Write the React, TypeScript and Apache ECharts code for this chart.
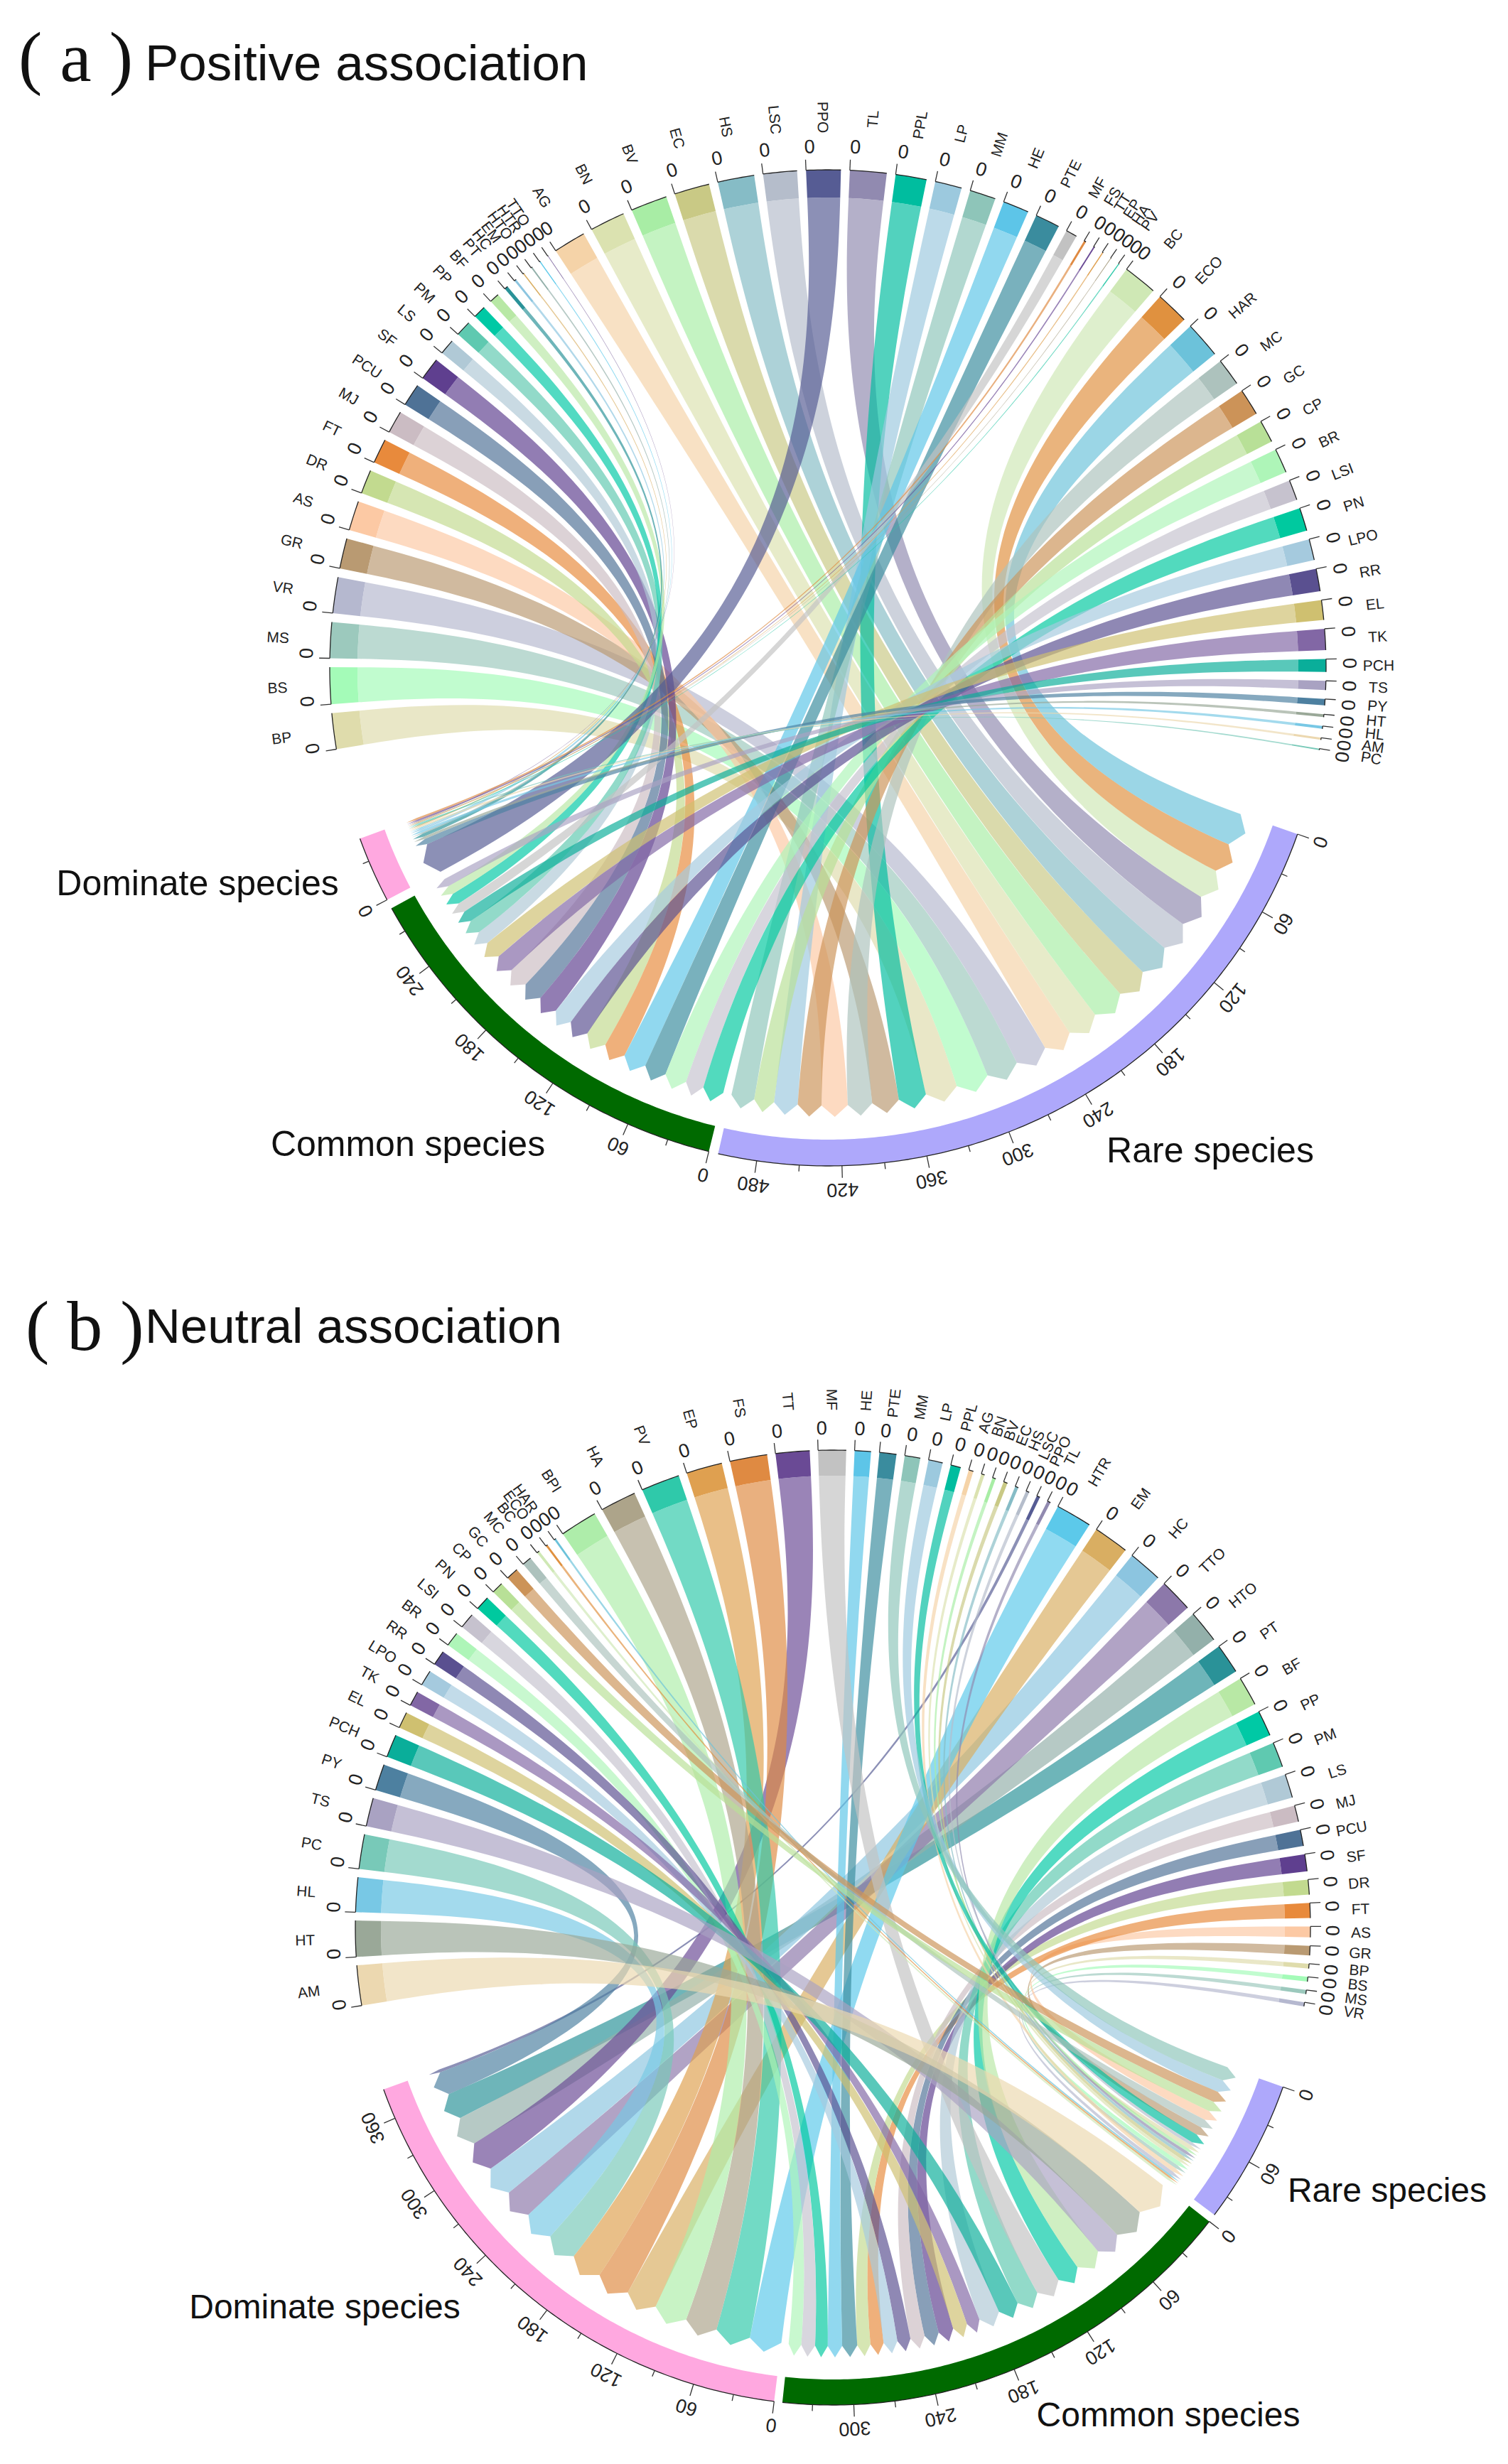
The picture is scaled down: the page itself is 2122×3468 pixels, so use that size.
import React, { useEffect, useRef } from "react";
import * as echarts from "echarts";

// ---------- species shared by both panels ----------
const speciesColors: Record<string, string> = {
  BP: "#dfdcac", BS: "#a4fbb8", MS: "#9cc9bd", VR: "#b5b8cf", GR: "#b99a72", AS: "#fcc9a4", DR: "#c2da8f", FT: "#e88a3c",
  MJ: "#cbbcc3", PCU: "#4f7296", SF: "#5f3f8f", LS: "#b0c9d6", PM: "#5fc9b0", PP: "#00c9a5", BF: "#b8e8a5", PT: "#2a9298",
  HTO: "#93b0aa", TTO: "#8c78aa", HC: "#8cc5e0", EM: "#d9ae62", HTR: "#5cc9ea", AG: "#f5d3a8", BN: "#dbe2b0", BV: "#a8eda5",
  EC: "#c9c985", HS: "#86bcc6", LSC: "#b5bdcb", PPO: "#565c94", TL: "#918ab0", PPL: "#00bd9f", LP: "#9cc9de", MM: "#8ec5b9",
  HE: "#5dc5e8", PTE: "#3a8c9e", MF: "#c2c2c2", FS: "#df8a42", TT: "#6a4a95", EP: "#dfa050", HA: "#ada48a", PV: "#2fc9aa",
  BPI: "#aeedaa", BC: "#cfe8b5", ECO: "#e0913f", HAR: "#6cc2da", MC: "#adc2bd", GC: "#cc9358", CP: "#b8e097", BR: "#aef5b8",
  LSI: "#c6c2ce", PN: "#00c99f", LPO: "#a5cade", RR: "#5a5090", EL: "#cfc070", TK: "#8267a5", PCH: "#0aae9a", TS: "#a9a2c2",
  PY: "#4d80a0", HT: "#9aa898", HL: "#78c8e5", AM: "#ecd8b0", PC: "#78c9b8",
};
const groupColors: Record<string, string> = {
  "Rare species": "#aea8fb",
  "Common species": "#006a00",
  "Dominate species": "#ffa8e0",
};
const groupNames = ["Rare species", "Common species", "Dominate species"];

// ---------- panel (a) ----------
const speciesA = [
  "BP", "BS", "MS", "VR", "GR", "AS", "DR", "FT", "MJ", "PCU", "SF", "LS", "PM", "PP", "BF",
  "PT", "HC", "EM", "HTO", "HTR", "TTO", "AG", "BN", "BV", "EC", "HS", "LSC", "PPO", "TL", "PPL",
  "LP", "MM", "HE", "PTE", "MF", "FS", "TT", "EP", "HA", "PV", "BC", "ECO", "HAR", "MC", "GC",
  "CP", "BR", "LSI", "PN", "LPO", "RR", "EL", "TK", "PCH", "TS", "PY", "HT", "HL", "AM", "PC",
];
const valuesA = [
  25.5, 26, 25.5, 25.5, 21.5, 21, 17, 17.5, 16, 16, 16, 11, 11, 9, 7,
  2.5, 1.5, 0.8, 1, 0.7, 0.5, 23, 25, 26, 25, 26, 24, 24.5, 26, 22,
  19, 18.5, 18.5, 17.5, 8, 1.5, 1, 0.8, 0.5, 0.7, 24, 23.5, 26, 19.5, 19,
  16, 17.5, 14.5, 16.5, 15, 16, 14, 15, 9, 6.5, 4.5, 2, 2, 1.5, 1,
];
const rareA = ["HAR", "ECO", "BC", "TL", "LSC", "HS", "EC", "BV", "BN", "AG", "VR", "MS", "BS", "BP", "PPL", "GR", "MC", "AS", "GC", "LP", "CP", "MM"];
const commonA = ["PN", "LSI", "BR", "PTE", "HE", "FT", "DR", "RR", "LPO", "SF", "PCU", "MJ", "TK", "EL", "LS", "PM", "PCH", "MF", "PP", "BF", "TS"];
const dominateA = ["PPO", "PY", "HT", "PT", "HTO", "HL", "HC", "HTR", "AM", "EM", "PV", "PC", "EP", "HA", "TTO", "TT", "FS"];

// ---------- panel (b) ----------
const speciesB = [
  "AM", "HT", "HL", "PC", "TS", "PY", "PCH", "EL", "TK", "LPO", "RR", "BR", "LSI", "PN", "CP", "GC", "MC", "BC", "ECO", "HAR",
  "BPI", "HA", "PV", "EP", "FS", "TT", "MF", "HE", "PTE", "MM", "LP", "PPL", "AG", "BN", "BV", "EC", "HS", "LSC", "PPO", "TL",
  "HTR", "EM", "HC", "TTO", "HTO", "PT", "BF", "PP", "PM", "LS", "MJ", "PCU", "SF", "DR", "FT", "AS", "GR", "BP", "BS", "MS", "VR",
];
const valuesB = [
  29.5, 26.5, 25.5, 25.5, 21, 19.5, 17, 12, 11, 11.5, 11, 10.5, 11.5, 10.5, 8.5, 9, 7, 2, 1.5, 1.5,
  27.5, 26.5, 28.5, 26.5, 27.5, 25, 20.5, 12, 12.5, 11.5, 10.5, 7.5, 3.5, 2.5, 2.5, 3, 2.5, 2.5, 2.5, 2.5,
  26.5, 26, 25, 24.5, 24, 22, 21.5, 19, 18.5, 17.5, 12, 12, 12.5, 11, 11, 8, 7, 3.5, 3.5, 3, 3,
];
const rareB = ["MM", "LP", "GC", "CP", "AS", "MC", "GR", "PPL", "LSC", "BP", "BV", "TL", "HS", "EC", "BN", "BS", "MS", "AG", "VR", "HAR", "ECO", "BC"];
const commonB = ["AM", "HT", "TS", "BF", "PP", "MF", "PM", "PCH", "LS", "TK", "EL", "SF", "PCU", "MJ", "RR", "LPO", "FT", "DR", "PTE", "HE", "PN", "LSI", "BR"];
const dominateB = ["HTR", "PV", "HA", "BPI", "EM", "FS", "EP", "PC", "HL", "TTO", "HC", "TT", "HTO", "PT", "PY", "PPO"];

// ---------- layout ----------
type Panel = {
  polarIndex: number; center: number[]; R: number; bandDepth: number; groupDepth: number;
  tipR: number; shoulderR: number; nameR: number; zeroR: number; tickLabelR: number;
  species: string[]; values: number[]; slots: string[][]; k: number; groupGap: number; reverseDraw: boolean;
};
const panels: Panel[] = [
  { polarIndex: 0, center: [1165, 940], R: 701, bandDepth: 39, groupDepth: 37, tipR: 632, shoulderR: 616, nameR: 775, zeroR: 734, tickLabelR: 735,
    species: speciesA, values: valuesA, slots: [rareA, commonA, dominateA], k: 0.164, groupGap: 1.1, reverseDraw: false },
  { polarIndex: 1, center: [1172, 2713], R: 672, bandDepth: 36, groupDepth: 36, tipR: 605, shoulderR: 589, nameR: 743, zeroR: 703, tickLabelR: 706,
    species: speciesB, values: valuesB, slots: [rareB, commonB, dominateB], k: 0.165, groupGap: 1, reverseDraw: true },
];
const TOP_START = 260.6, TOP_END = 459.5, GROUP_START = 109.5;
const TICK_MINOR = 30, TICK_MAJOR = 60;
const RMAX = 820;
const RIBBON_OPACITY = 0.68;

function buildOption() {
  const series: any[] = [];
  const polar: any[] = [], angleAxis: any[] = [], radiusAxis: any[] = [];
  panels.forEach((p) => {
    polar.push({ center: p.center, radius: RMAX });
    angleAxis.push({ polarIndex: p.polarIndex, type: "value", min: 0, max: 360, startAngle: 90, clockwise: true, show: false, splitLine: { show: false } });
    radiusAxis.push({ polarIndex: p.polarIndex, type: "value", min: 0, max: RMAX, show: false, splitLine: { show: false } });

    const total = p.values.reduce((s, v) => s + v, 0);
    const gap = (TOP_END - TOP_START - total * p.k) / (p.species.length - 1);
    const spans: Record<string, number[]> = {};
    const valueOf: Record<string, number> = {};
    let a = TOP_START;
    p.species.forEach((n, i) => {
      const w = p.values[i] * p.k;
      spans[n] = [a, a + w];
      valueOf[n] = p.values[i];
      a += w + gap;
    });

    const slotOf: Record<string, number[]> = {};
    const arcs: { color: string; a0: number; a1: number; r0: number; r1: number }[] = [];
    const ticks: { angle: number; len: number }[] = [];
    const texts: { text: string; angle: number; r: number; size: number; mode: string }[] = [];

    const addTicks = (a0: number, value: number) => {
      for (let v = 0; v <= value; v += TICK_MINOR) {
        const ang = a0 + v * p.k;
        const major = v % TICK_MAJOR === 0;
        ticks.push({ angle: ang, len: major ? 17 : 9 });
        if (major) texts.push({ text: String(v), angle: ang, r: p.tickLabelR, size: 27, mode: "tangent" });
      }
    };

    let g = GROUP_START;
    p.slots.forEach((names, gi) => {
      const start = g;
      let sum = 0;
      names.forEach((n) => {
        const w = valueOf[n] * p.k;
        slotOf[n] = [g, g + w];
        g += w;
        sum += valueOf[n];
      });
      arcs.push({ color: groupColors[groupNames[gi]], a0: start, a1: g, r0: p.R - p.groupDepth, r1: p.R });
      addTicks(start, sum);
      g += p.groupGap;
    });

    p.species.forEach((n) => {
      const [s0, s1] = spans[n];
      arcs.push({ color: speciesColors[n], a0: s0, a1: s1, r0: p.R - p.bandDepth, r1: p.R });
      ticks.push({ angle: s0, len: 15 });
      texts.push({ text: "0", angle: s0 + 0.5, r: p.zeroR, size: 27, mode: "tangent" });
      texts.push({ text: n, angle: (s0 + s1) / 2, r: p.nameR, size: 21, mode: "radial" });
    });

    const ribbonR = p.R - p.bandDepth;
    const CTRL1 = 0.65 * ribbonR, CTRL2 = 20;
    const drawNames = p.reverseDraw ? [...p.species].reverse() : p.species;
    const ribbonRows = drawNames.map((n) => [...spans[n], ...slotOf[n]]);

    series.push({
      type: "custom", name: "ribbons", coordinateSystem: "polar", polarIndex: p.polarIndex, silent: true,
      data: ribbonRows, z: 2,
      renderItem: (params: any, api: any) => {
        const pt = (r: number, ang: number) => { const c = api.coord([r, ((ang % 360) + 360) % 360]); return `${c[0].toFixed(2)} ${c[1].toFixed(2)}`; };
        const s0 = api.value(0), s1 = api.value(1), g0 = api.value(2), g1 = api.value(3);
        let d = `M${pt(ribbonR, s0)}`;
        const steps = Math.max(1, Math.ceil((s1 - s0) / 0.5));
        for (let i = 1; i <= steps; i++) d += `L${pt(ribbonR, s0 + ((s1 - s0) * i) / steps)}`;
        d += `C${pt(CTRL1, s1)} ${pt(CTRL2, g0)} ${pt(p.shoulderR, g0)}`;
        d += `L${pt(p.tipR, (g0 + g1) / 2)}L${pt(p.shoulderR, g1)}`;
        d += `C${pt(CTRL2, g1)} ${pt(CTRL1, s0)} ${pt(ribbonR, s0)}Z`;
        return { type: "path", shape: { pathData: d }, style: { fill: speciesColors[drawNames[params.dataIndex]], opacity: RIBBON_OPACITY } };
      },
    });

    series.push({
      type: "custom", name: "arcs", coordinateSystem: "polar", polarIndex: p.polarIndex, silent: true,
      data: arcs.map((x) => [x.r1, x.a0, x.a1, x.r0]), z: 3,
      renderItem: (params: any, api: any) => {
        const x = arcs[params.dataIndex];
        const pts = (r: number, from: number, to: number) => {
          const n = Math.max(1, Math.ceil(Math.abs(to - from) / 0.5));
          const out: number[][] = [];
          for (let i = 0; i <= n; i++) {
            const c = api.coord([r, (((from + ((to - from) * i) / n) % 360) + 360) % 360]);
            out.push([c[0], c[1]]);
          }
          return out;
        };
        return {
          type: "group",
          children: [
            { type: "polygon", shape: { points: [...pts(x.r1, x.a0, x.a1), ...pts(x.r0, x.a1, x.a0)] }, style: { fill: x.color } },
            { type: "polyline", shape: { points: pts(x.r1, x.a0, x.a1) }, style: { stroke: "#222", lineWidth: 1.3, fill: null } },
          ],
        };
      },
    });

    series.push({
      type: "custom", name: "ticks", coordinateSystem: "polar", polarIndex: p.polarIndex, silent: true,
      data: ticks.map((t) => [p.R, t.angle]), z: 4,
      renderItem: (params: any, api: any) => {
        const t = ticks[params.dataIndex];
        const ang = ((t.angle % 360) + 360) % 360;
        const c0 = api.coord([p.R, ang]), c1 = api.coord([p.R + t.len, ang]);
        return { type: "line", shape: { x1: c0[0], y1: c0[1], x2: c1[0], y2: c1[1] }, style: { stroke: "#333", lineWidth: 1.3 } };
      },
    });

    series.push({
      type: "custom", name: "labels", coordinateSystem: "polar", polarIndex: p.polarIndex, silent: true,
      data: texts.map((t) => [t.r, t.angle]), z: 5,
      renderItem: (params: any, api: any) => {
        const t = texts[params.dataIndex];
        const ang = ((t.angle % 360) + 360) % 360;
        const c = api.coord([t.r, ang]);
        let rotDeg: number;
        if (t.mode === "tangent") rotDeg = -ang;
        else rotDeg = ang < 180 ? 90 - ang : 270 - ang;
        return {
          type: "text", x: c[0], y: c[1], rotation: (rotDeg * Math.PI) / 180,
          style: { text: t.text, fill: "#222", fontFamily: "Liberation Sans", fontSize: t.size, textAlign: "center", textVerticalAlign: "middle", verticalAlign: "middle" },
        };
      },
    });
  });

  const sans = (text: string, x: number, y: number, size: number, align = "center") => ({
    type: "text", x, y, silent: true,
    style: { text, fill: "#111", fontFamily: "Liberation Sans", fontSize: size, textAlign: align, textVerticalAlign: "middle", verticalAlign: "middle" },
  });
  const serif = (text: string, x: number, y: number) => ({
    type: "text", x, y, silent: true,
    style: { text, fill: "#111", fontFamily: "Liberation Serif", fontSize: 100, textAlign: "left", textVerticalAlign: "middle", verticalAlign: "middle" },
  });

  return {
    animation: false,
    backgroundColor: "#ffffff",
    polar, angleAxis, radiusAxis, series,
    graphic: { elements: [
      serif("( a )", 26, 80),
      sans("Positive association", 204, 88, 71, "left"),
      serif("( b )", 36, 1866),
      sans("Neutral association", 204, 1866, 69, "left"),
      sans("Dominate species", 278, 1243, 50),
      sans("Common species", 574, 1610, 50),
      sans("Rare species", 1703, 1619, 50),
      sans("Dominate species", 457, 3246, 48),
      sans("Common species", 1644, 3398, 48),
      sans("Rare species", 1952, 3082, 48),
    ] },
  };
}

export default function App() {
  const ref = useRef<HTMLDivElement>(null);
  useEffect(() => {
    const chart = echarts.init(ref.current as HTMLDivElement, undefined, { renderer: "svg" });
    chart.setOption(buildOption() as any);
    return () => chart.dispose();
  }, []);
  return <div ref={ref} style={{ position: "absolute", left: 0, top: 0, width: 2122, height: 3468 }} />;
}
